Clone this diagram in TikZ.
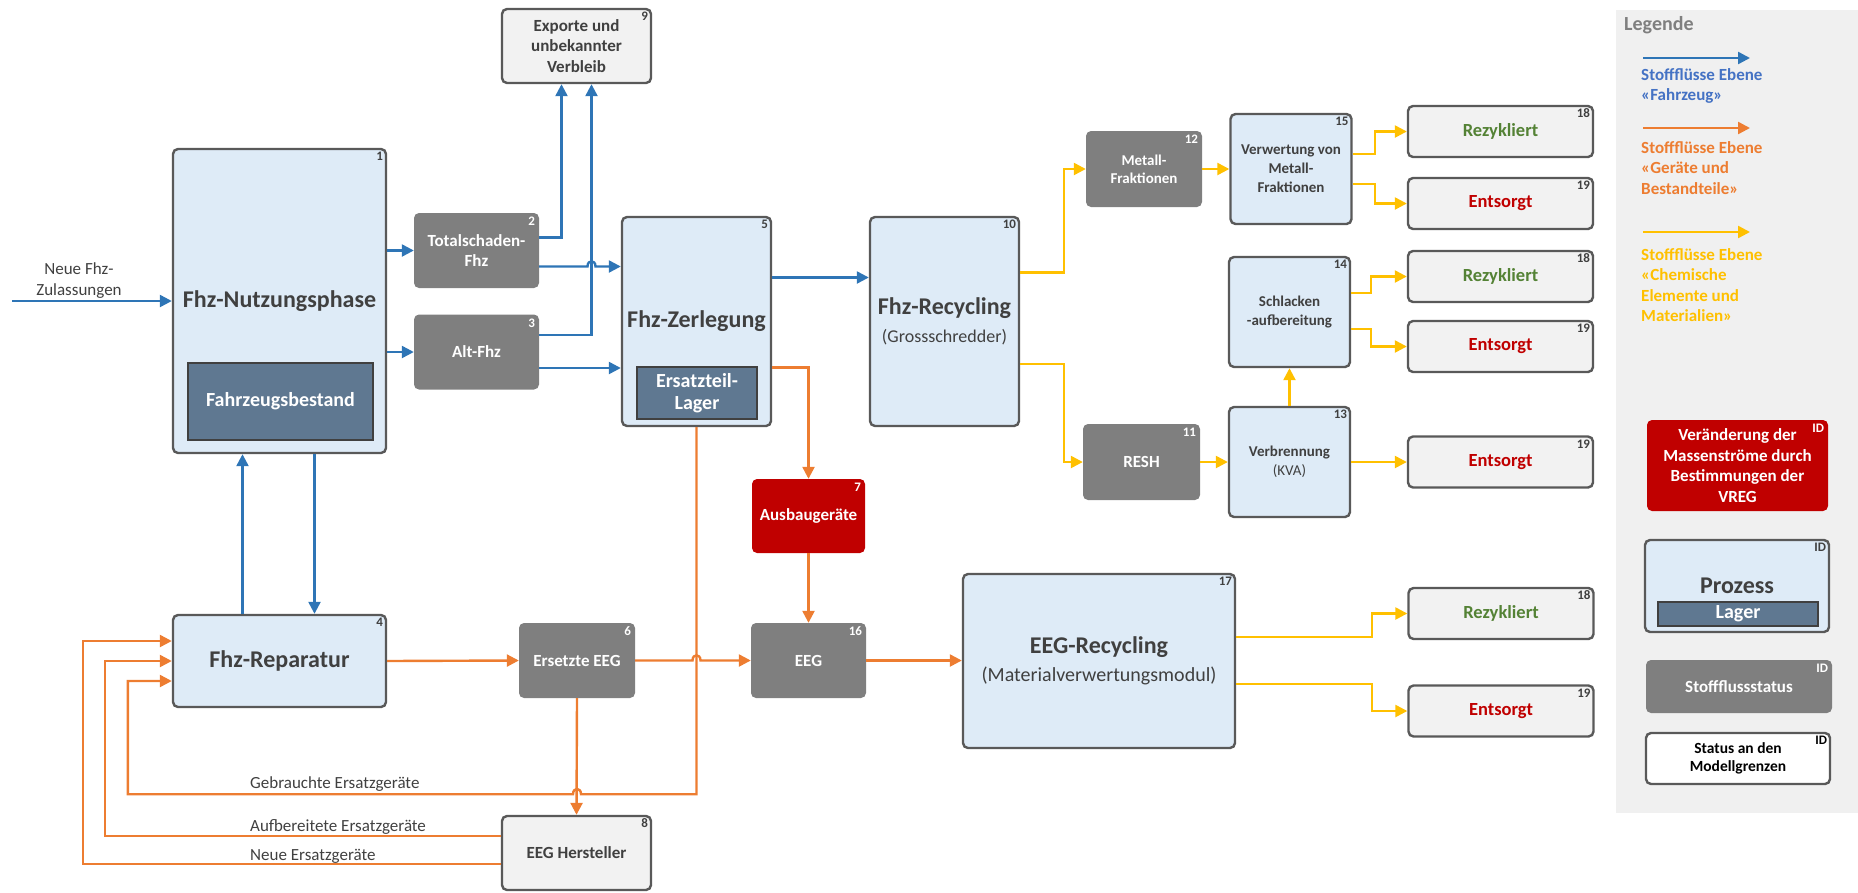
\documentclass[tikz,border=0pt]{standalone}
\usepackage{fontspec}
\setmainfont{Carlito}
\usetikzlibrary{arrows.meta,calc}

\definecolor{procblue}{HTML}{DEEBF7}
\definecolor{lagerblue}{HTML}{5F7891}
\definecolor{statgray}{HTML}{7F7F7F}
\definecolor{boundgray}{HTML}{F2F2F2}
\definecolor{framegray}{HTML}{595959}
\definecolor{vregred}{HTML}{C00000}
\definecolor{flowblue}{HTML}{2E75B6}
\definecolor{floworange}{HTML}{ED7D31}
\definecolor{flowyellow}{HTML}{FFC000}
\definecolor{txtdark}{HTML}{404040}
\definecolor{txtgreen}{HTML}{548235}
\definecolor{legbg}{HTML}{F0F0F0}
\definecolor{legblue}{HTML}{4472C4}

\begin{document}
\begin{tikzpicture}[x=1pt, y=-1pt,
    proc/.style={draw=framegray, line width=2.4pt, fill=procblue, rounded corners=5pt, text=txtdark, align=center, font=\fontsize{24}{28}\selectfont\bfseries},
    smallproc/.style={proc, minimum width=121, minimum height=110, font=\fontsize{15}{19}\selectfont\bfseries},
    lager/.style={draw=txtdark, line width=2.2pt, fill=lagerblue, text=white, align=center, font=\fontsize{20}{22}\selectfont\bfseries},
    stat/.style={fill=statgray, rounded corners=5pt, text=white, align=center, font=\fontsize{17}{20.5}\selectfont\bfseries},
    bound/.style={draw=framegray, line width=2.4pt, fill=boundgray, rounded corners=5pt, text=txtdark, align=center, font=\fontsize{17}{20.5}\selectfont\bfseries},
    rezy/.style={bound, minimum width=185, minimum height=51, text=txtgreen, font=\fontsize{18.5}{20}\selectfont\bfseries},
    ents/.style={rezy, text=vregred},
    vreg/.style={fill=vregred, rounded corners=5pt, text=white, align=center, font=\fontsize{17}{20.5}\selectfont\bfseries},
    idnum/.style={anchor=north east, inner sep=4pt, text=txtdark, font=\fontsize{13}{13}\selectfont\bfseries},
    idwhite/.style={idnum, text=white},
    flow/.style={line width=2.4pt, -{Triangle[length=12pt,width=12pt]}},
    bflow/.style={flow, draw=flowblue},
    oflow/.style={flow, draw=floworange},
    yflow/.style={flow, draw=flowyellow},
    flowlab/.style={inner sep=0pt, text=txtdark, font=\fontsize{17}{21}\selectfont},
    legtext/.style={anchor=west, inner sep=0pt, align=left, font=\fontsize{17}{20.5}\selectfont\bfseries}
]
    \useasboundingbox (0,0) rectangle (1858,892);

    % Prozesse
    \node[proc, minimum width=213, minimum height=304, label={[idnum]north east:1}] (nutz) at (279.5,301) {Fhz-Nutzungsphase};
    \node[lager, minimum width=185, minimum height=77] (bestand) at (280.5,401.5) {Fahrzeugsbestand};
    \node[proc, minimum width=149, minimum height=209, label={[idnum]north east:5}] (zerl) at (696.5,321.5) {Fhz-Zerlegung};
    \node[lager, minimum width=120, minimum height=52] (etlager) at (697,393) {Ersatzteil-\\Lager};
    \node[proc, minimum width=149, minimum height=209, label={[idnum]north east:10}] (recy) at (944.5,321.5)
        {Fhz-Recycling\\{\fontsize{18}{22}\selectfont\mdseries (Grossschredder)}};
    \node[proc, minimum width=213, minimum height=92, label={[idnum]north east:4}] (rep) at (279.5,661) {Fhz-Reparatur};
    \node[proc, minimum width=272, minimum height=174, label={[idnum]north east:17}] (eegr) at (1099,661)
        {EEG-Recycling\\{\fontsize{20}{22}\selectfont\mdseries (Materialverwertungsmodul)}};
    \node[smallproc, label={[idnum]north east:15}] (verw) at (1291,169) {Verwertung von\\Metall-\\Fraktionen};
    \node[smallproc, label={[idnum]north east:14}] (schl) at (1289.5,312) {Schlacken\\-aufbereitung};
    \node[smallproc, label={[idnum]north east:13}] (verb) at (1289.5,462) {Verbrennung\\{\mdseries (KVA)}};

    % Stoffflussstatus
    \node[stat, minimum width=125, minimum height=75, label={[idwhite]north east:2}] (tot) at (476.5,250.5) {Totalschaden-\\Fhz};
    \node[stat, minimum width=125, minimum height=75, label={[idwhite]north east:3}] (alt) at (476.5,352) {Alt-Fhz};
    \node[stat, minimum width=116, minimum height=75, label={[idwhite]north east:6}] (ers) at (577,660.5) {Ersetzte EEG};
    \node[stat, minimum width=115, minimum height=75, label={[idwhite]north east:16}] (eeg) at (808.5,660.5) {EEG};
    \node[stat, minimum width=116, minimum height=76, font=\fontsize{15}{18}\selectfont\bfseries, label={[idwhite]north east:12}] (metf) at (1144,169) {Metall-\\Fraktionen};
    \node[stat, minimum width=117, minimum height=76, label={[idwhite]north east:11}] (resh) at (1141.5,462) {RESH};
    \node[vreg, minimum width=113, minimum height=74, label={[idwhite]north east:7}] (ausb) at (808.5,516) {Ausbaugeräte};

    % Modellgrenzen
    \node[bound, minimum width=149, minimum height=74, label={[idnum]north east:9}] (exp) at (576.5,46) {Exporte und\\unbekannter\\Verbleib};
    \node[bound, minimum width=149, minimum height=74, label={[idnum]north east:8}] (herst) at (576.5,853) {EEG Hersteller};
    \foreach \n/\x/\y in {rez1/1500.5/131.5, rez2/1500.5/276.5, rez3/1501/613.5}
        \node[rezy, label={[idnum]north east:18}] (\n) at (\x,\y) {Rezykliert};
    \foreach \n/\x/\y in {ent1/1500.5/203.5, ent2/1500.5/346.5, ent3/1500.5/462, ent4/1501/711}
        \node[ents, label={[idnum]north east:19}] (\n) at (\x,\y) {Entsorgt};

    % Stoffflüsse Fahrzeug
    \coordinate (zul) at (12,301);
    \draw[bflow] (zul) -- (nutz.west);
    \node[flowlab, align=center] (lzul) at (79,281) {Neue Fhz-\\Zulassungen};
    \draw[bflow] (nutz.east |- tot.west) -- (tot.west);
    \draw[bflow] (nutz.east |- alt.west) -- (alt.west);
    \draw[bflow] ($(rep.north)+(-37,0)$) -- ($(nutz.south)+(-37,0)$);
    \draw[bflow] ($(nutz.south)+(35,0)$) -- ($(rep.north)+(35,0)$);
    \draw[bflow] ($(tot.east)+(0,-13)$) -| ($(exp.south)+(-15,0)$);
    \draw[bflow] ($(alt.east)+(0,-17)$) -| ($(exp.south)+(15,0)$);
    \draw[bflow] ($(tot.east)+(0,16)$) -- ($(tot.east -| exp.south)+(11,16)$)
        .. controls ($(tot.east -| exp.south)+(11,9)$) and ($(tot.east -| exp.south)+(19,9)$) .. ($(tot.east -| exp.south)+(19,16)$)
        -- ($(tot.east -| zerl.west)+(0,16)$);
    \draw[bflow] ($(alt.east)+(0,16)$) -- ($(alt.east -| zerl.west)+(0,16)$);
    \draw[bflow] ($(zerl.east)+(0,-44)$) -- ($(zerl.east -| recy.west)+(0,-44)$);

    % Stoffflüsse Geräte
    \draw[oflow] ($(zerl.east)+(0,46)$) -| (ausb.north);
    \draw[oflow] (ausb.south) -- (eeg.north);
    \draw[oflow] (rep.east) -- (ers.west);
    \draw[oflow] (ers.east) -- ($(ers.east -| zerl.south)+(-4,0)$)
        .. controls ($(ers.east -| zerl.south)+(-4,-7)$) and ($(ers.east -| zerl.south)+(4,-7)$) .. ($(ers.east -| zerl.south)+(4,0)$)
        -- (eeg.west);
    \draw[oflow] (eeg.east) -- (eegr.west |- eeg.east);
    \draw[oflow] (ers.south) -- (herst.north);
    \coordinate (gx) at ($(zerl.south)+(0,367)$);
    \draw[oflow] (zerl.south) -- (gx) -- ($(ers.south |- gx)+(4,0)$)
        .. controls ($(ers.south |- gx)+(4,-7)$) and ($(ers.south |- gx)+(-4,-7)$) .. ($(ers.south |- gx)+(-4,0)$)
        -- ($(gx -| rep.west)+(-44,0)$) |- ($(rep.west)+(0,20)$);
    \draw[oflow] ($(herst.west)+(0,-17)$) -- ($(herst.west -| rep.west)+(-67,-17)$) |- (rep.west);
    \draw[oflow] ($(herst.west)+(0,11)$) -- ($(herst.west -| rep.west)+(-89,11)$) |- ($(rep.west)+(0,-20)$);
    \node[flowlab, anchor=west] (lgebr) at (250,784) {Gebrauchte Ersatzgeräte};
    \node[flowlab, anchor=west] (laufb) at (250,827) {Aufbereitete Ersatzgeräte};
    \node[flowlab, anchor=west] (lneu) at (250,856) {Neue Ersatzgeräte};

    % Stoffflüsse Materialien
    \draw[yflow] ($(recy.east)+(0,-49)$) -- ++(44,0) |- (metf.west);
    \draw[yflow] ($(recy.east)+(0,42.5)$) -- ++(44,0) |- (resh.west);
    \draw[yflow] (metf.east) -- (verw.west |- metf.east);
    \draw[yflow] (resh.east) -- (verb.west |- resh.east);
    \draw[yflow] (verb.north) -- (schl.south);
    \draw[yflow] (verb.east) -- (ent3.west);
    \draw[yflow] ($(verw.east)+(0,-15)$) -- ++(22,0) |- (rez1.west);
    \draw[yflow] ($(verw.east)+(0,15)$) -- ++(22,0) |- (ent1.west);
    \draw[yflow] ($(schl.east)+(0,-19)$) -- ++(20,0) |- (rez2.west);
    \draw[yflow] ($(schl.east)+(0,17)$) -- ++(20,0) |- (ent2.west);
    \draw[yflow] ($(eegr.east)+(0,-24)$) -- ++(136,0) |- (rez3.west);
    \draw[yflow] ($(eegr.east)+(0,23)$) -- ++(136,0) |- (ent4.west);

    % Legende
    \fill[legbg] (1616,10) rectangle (1858,813);
    \node[anchor=west, inner sep=0pt, text=statgray, font=\fontsize{20}{24}\selectfont\bfseries] (leg) at (1624,25) {Legende};
    \foreach \s/\y in {bflow/58, oflow/128, yflow/232} {
        \coordinate (\s-a) at (1643,\y);
        \coordinate (\s-b) at (1750,\y);
        \draw[\s] (\s-a) -- (\s-b);
    }
    \node[legtext, text=legblue] (lt1) at (1641,86) {Stoffflüsse Ebene\\«Fahrzeug»};
    \node[legtext, text=floworange] (lt2) at (1641,168) {Stoffflüsse Ebene\\«Geräte und\\Bestandteile»};
    \node[legtext, text=flowyellow] (lt3) at (1641,285) {Stoffflüsse Ebene\\«Chemische\\Elemente und\\Materialien»};
    \node[vreg, minimum width=181, minimum height=91, label={[idwhite]north east:ID}] (lvreg) at (1737.5,465.5)
        {Veränderung der\\Massenströme durch\\Bestimmungen der\\VREG};
    \node[proc, minimum width=184, minimum height=92, label={[idnum]north east:ID}] (lproc) at (1737,586) {Prozess};
    \node[lager, minimum width=160, minimum height=24, inner sep=0pt] (llager) at (1738,614) {Lager};
    \node[stat, minimum width=186, minimum height=53, label={[idwhite]north east:ID}] (lstat) at (1739,686.5) {Stoffflussstatus};
    \node[bound, fill=white, text=black, font=\fontsize{15.5}{17.5}\selectfont\bfseries, minimum width=184, minimum height=51,
        label={[idnum, text=black]north east:ID}] (lgrenz) at (1738,758.5) {Status an den\\Modellgrenzen};
\end{tikzpicture}
\end{document}
